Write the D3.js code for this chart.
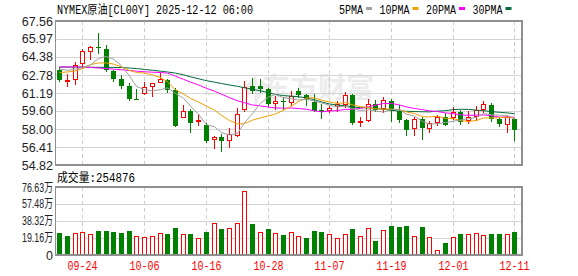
<!DOCTYPE html>
<html>
<head>
<meta charset="utf-8">
<script src="https://cdn.jsdelivr.net/npm/d3@7"></script>
<style>
  body { margin: 0; background: #fff; }
  svg { display: block; }
</style>
</head>
<body>
<div id="kline"></div>
<script>
// data
const dates = ["09-19","09-22","09-23","09-24","09-25","09-26","09-29","09-30","10-01","10-02",
  "10-03","10-06","10-07","10-08","10-09","10-10","10-13","10-14","10-15","10-16",
  "10-17","10-20","10-21","10-22","10-23","10-24","10-27","10-28","10-29","10-30",
  "10-31","11-03","11-04","11-05","11-06","11-07","11-10","11-11","11-12","11-13",
  "11-14","11-17","11-18","11-19","11-20","11-21","11-24","11-25","11-26","11-27",
  "11-28","12-01","12-02","12-03","12-04","12-05","12-08","12-09","12-10","12-11"];
const dateLabels = ["09-24","10-06","10-16","10-28","11-07","11-19","12-01","12-11"];

const open  = [63.25,62.30,62.38,63.76,64.88,65.25,65.08,63.16,62.43,61.78,
  60.66,61.15,61.75,62.16,62.34,61.46,59.04,59.62,58.67,58.33,
  57.12,57.32,56.99,57.47,59.77,61.78,61.78,61.54,60.22,60.44,
  60.35,61.39,61.01,60.42,59.69,59.60,59.98,60.15,61.01,58.54,
  58.80,60.22,59.82,60.48,59.60,58.80,58.07,58.89,58.05,58.58,
  59.04,59.03,59.54,58.74,59.13,59.75,60.13,58.89,58.42,58.85];
const high  = [63.45,62.87,63.89,65.08,65.37,66.52,65.48,63.22,62.78,62.07,
  61.54,62.12,62.10,62.92,62.46,61.63,60.11,59.76,59.29,58.54,
  57.36,57.52,58.08,59.86,62.21,62.56,62.43,61.63,60.90,60.84,
  61.37,61.61,61.10,61.10,60.22,60.08,60.48,61.31,61.10,59.09,
  60.66,60.57,60.84,60.63,60.13,58.85,59.07,59.07,58.74,59.24,
  59.42,59.98,59.69,59.60,60.04,60.46,60.31,59.00,59.15,59.02];
const low   = [62.20,61.69,61.94,63.34,64.14,64.68,63.02,62.12,61.54,60.44,
  60.58,60.97,60.81,62.10,61.18,58.18,58.96,57.69,58.23,56.77,
  56.26,55.97,56.34,57.30,59.51,61.12,61.15,59.95,59.71,59.73,
  60.04,60.75,60.04,59.51,58.86,59.42,59.55,59.86,58.32,58.14,
  58.65,59.47,59.42,58.65,58.54,57.41,57.41,57.03,57.68,58.31,
  58.27,58.76,58.36,58.45,58.71,59.42,58.65,58.14,57.68,56.97];
const close = [62.35,62.34,63.62,64.82,65.23,65.20,63.25,62.47,61.85,60.70,
  60.64,61.68,62.05,62.38,61.46,58.23,59.51,58.55,58.73,56.92,
  57.27,56.97,57.52,59.33,61.72,61.33,61.54,60.22,60.44,60.35,
  60.84,61.01,60.57,59.64,59.47,59.86,60.19,61.01,58.50,58.67,
  60.13,59.69,60.53,59.62,58.80,57.92,58.87,58.12,58.45,59.04,
  58.40,59.48,58.62,59.02,59.66,60.13,58.87,58.42,59.00,57.92];

const volume = [244000,210000,240000,252000,229000,267000,267000,255000,244000,267000,
  207000,195000,207000,240000,233000,301000,229000,233000,184000,255000,
  353000,289000,297000,353000,714000,346000,252000,289000,240000,222000,
  252000,207000,188000,267000,255000,229000,188000,229000,289000,207000,
  301000,154000,274000,323000,312000,323000,207000,312000,195000,49000,
  131000,195000,233000,229000,240000,218000,233000,233000,229000,254876];
// 1 = red (hollow) volume bar, 0 = green
const volUp = [0,0,1,1,1,0,0,0,0,0, 1,1,1,1,0,0,1,0,1,0,
  1,0,1,1,1,0,1,0,1,0, 1,1,0,0,0,1,1,1,0,1,
  1,0,1,0,0,0,1,0,1,1, 0,1,0,1,1,1,0,0,1,0];

const ma5  = [63.30,63.20,63.30,63.45,63.67,64.24,64.42,64.19,63.60,62.69,
  61.78,61.47,61.38,61.49,61.64,61.16,60.73,60.03,59.30,58.39,
  58.20,57.69,57.48,57.60,58.56,59.37,60.29,60.83,61.05,60.78,
  60.68,60.57,60.64,60.48,60.31,60.11,59.95,60.03,59.80,59.64,
  59.70,59.60,59.50,59.73,59.75,59.31,59.15,58.67,58.43,58.48,
  58.58,58.70,58.80,58.91,59.04,59.38,59.26,59.22,59.22,58.87];
const ma10 = [63.00,63.05,63.15,63.35,63.70,63.85,63.85,63.75,63.50,63.18,
  63.01,62.95,62.79,62.55,62.17,61.47,61.10,60.71,60.40,60.02,
  59.68,59.21,58.76,58.45,58.48,58.79,58.99,59.16,59.33,59.67,
  60.03,60.43,60.74,60.77,60.55,60.40,60.26,60.34,60.14,59.98,
  59.91,59.78,59.77,59.77,59.70,59.51,59.38,59.09,59.08,59.12,
  58.95,58.93,58.74,58.67,58.76,58.98,58.98,59.01,59.07,58.96];
const ma20 = [63.50,63.50,63.50,63.48,63.45,63.40,63.35,63.30,63.24,63.18,
  63.12,63.07,63.03,63.00,62.95,62.68,62.40,62.15,61.90,61.60,
  61.35,61.08,60.78,60.50,60.33,60.13,60.05,59.94,59.87,59.85,
  59.86,59.82,59.75,59.61,59.52,59.60,59.63,59.75,59.74,59.83,
  59.97,60.11,60.26,60.27,60.13,59.96,59.82,59.72,59.61,59.55,
  59.43,59.36,59.26,59.22,59.23,59.25,59.18,59.05,59.08,59.04];
const ma30 = [63.48,63.48,63.48,63.47,63.47,63.46,63.46,63.45,63.44,63.40,
  63.35,63.28,63.20,63.12,63.05,62.95,62.80,62.62,62.45,62.28,
  62.15,62.03,61.90,61.78,61.65,61.52,61.38,61.22,61.06,60.96,
  60.91,60.86,60.76,60.59,60.40,60.22,60.12,60.07,59.96,59.89,
  59.88,59.81,59.76,59.67,59.58,59.57,59.55,59.53,59.52,59.59,
  59.63,59.72,59.75,59.74,59.67,59.63,59.54,59.48,59.43,59.36];

const priceTicks = [54.82,56.41,58.00,59.60,61.19,62.78,64.38,65.97,67.56];
const volTicks = [0,191600,383200,574800,766300];
const volTickLabels = ["0","19.16万","38.32万","57.48万","76.63万"];
const maNames = ["5PMA","10PMA","20PMA","30PMA"];

const RED = "#ff0000", GREEN = "#008000";
const maColors = ["#a0a0a0","#f0a000","#ff00ff","#006b3c"];
const mono = "'Liberation Mono','Noto Sans CJK SC',monospace";

const W = 578, H = 276;
const left = 56, right = 522;

const svg = d3.select('#kline').append('svg')
  .attr('width', W).attr('height', H)
  .style('background', '#fff');

const x = d3.scaleBand().domain(d3.range(dates.length)).range([56, 518.6]);
const cx = i => Math.floor(x(i) + x.bandwidth() / 2) + 0.5;
const y = d3.scaleLinear().domain([54.82, 67.56]).range([165, 21]);
const yv = d3.scaleLinear().domain([0, 766300]).range([255, 187]);

// watermark
const wm = svg.append('g').attr('fill', '#ececec');
wm.append('path').attr('d', 'M256,76 C244,84 238,96 244,107 C246,97 250,90 258,84 Z M262,80 C254,90 252,100 256,108 C259,99 262,92 268,86 Z');
wm.append('text').attr('x', 262).attr('y', 98).text('东方财富')
  .style('font-family', "'Noto Sans CJK SC'").style('font-size', '28px').style('font-weight', 'bold');

// grid
const grid = svg.append('g').attr('shape-rendering', 'crispEdges');
grid.selectAll('.hp').data(priceTicks.slice(1, -1)).enter().append('line')
  .attr('x1', left).attr('x2', right)
  .attr('y1', d => Math.round(y(d)) + 0.5).attr('y2', d => Math.round(y(d)) + 0.5)
  .attr('stroke', '#d4d4d4');
grid.selectAll('.hv').data(volTicks.slice(1, -1)).enter().append('line')
  .attr('x1', left).attr('x2', right)
  .attr('y1', d => Math.round(yv(d)) + 0.5).attr('y2', d => Math.round(yv(d)) + 0.5)
  .attr('stroke', '#d4d4d4');
const labIdx = dateLabels.map(d => dates.indexOf(d));
[[21, 165], [187, 255]].forEach(r => {
  grid.selectAll(null).data(labIdx).enter().append('line')
    .attr('x1', d => cx(d)).attr('x2', d => cx(d))
    .attr('y1', r[0]).attr('y2', r[1])
    .attr('stroke', '#cfcfcf').attr('stroke-dasharray', '4,3');
});

// candles
const cg = svg.append('g').attr('shape-rendering', 'crispEdges');
const candles = cg.selectAll('g').data(d3.range(dates.length)).enter().append('g');
candles.append('line')
  .attr('x1', cx).attr('x2', cx)
  .attr('y1', i => y(high[i])).attr('y2', i => y(low[i]))
  .attr('stroke', i => close[i] >= open[i] ? RED : GREEN);
candles.append('rect')
  .attr('x', i => close[i] >= open[i] ? cx(i) - 2 : cx(i) - 2.5)
  .attr('width', i => close[i] >= open[i] ? 4 : 5)
  .attr('y', i => y(Math.max(open[i], close[i])))
  .attr('height', i => Math.max(1, Math.abs(y(open[i]) - y(close[i]))))
  .attr('fill', i => close[i] >= open[i] ? '#fff' : GREEN)
  .attr('stroke', i => close[i] >= open[i] ? RED : 'none');

// moving averages
const line = d3.line().x((d, i) => cx(i)).y(d => y(d));
[ma30, ma20, ma10, ma5].forEach((s, k) => {
  svg.append('path').datum(s).attr('d', line)
    .attr('fill', 'none').attr('stroke', maColors[3 - k]).attr('stroke-width', 1);
});

// volume bars
svg.append('g').attr('shape-rendering', 'crispEdges')
  .selectAll('rect').data(d3.range(dates.length)).enter().append('rect')
  .attr('x', i => volUp[i] ? cx(i) - 2 : cx(i) - 2.5)
  .attr('width', i => volUp[i] ? 4 : 5)
  .attr('y', i => yv(volume[i]))
  .attr('height', i => yv(0) - yv(volume[i]) - (volUp[i] ? 0.5 : 0))
  .attr('fill', i => volUp[i] ? '#fff' : GREEN)
  .attr('stroke', i => volUp[i] ? RED : 'none');

// frames
const frame = svg.append('g').attr('fill', 'none').attr('stroke', '#8f8f8f').attr('stroke-width', 1.5)
  .attr('shape-rendering', 'crispEdges');
frame.append('rect').attr('x', 55.5).attr('y', 21).attr('width', right - 55.5).attr('height', 144);
frame.append('rect').attr('x', 55.5).attr('y', 187).attr('width', right - 55.5).attr('height', 68);

// axis labels
svg.append('g').selectAll('text').data(priceTicks).enter().append('text')
  .attr('x', 53).attr('y', d => y(d) + 4.5)
  .attr('text-anchor', 'end')
  .style('font-family', "'Liberation Sans',Arial,sans-serif").style('font-size', '12.5px')
  .attr('fill', '#1e1e28')
  .text(d => d.toFixed(2));
svg.append('g').selectAll('text').data(volTicks).enter().append('text')
  .attr('x', 53).attr('y', d => yv(d) + 4.5)
  .attr('text-anchor', 'end')
  .attr('textLength', (d, i) => i ? 31 : null).attr('lengthAdjust', 'spacingAndGlyphs')
  .style('font-family', "'Liberation Sans','Noto Sans CJK SC',sans-serif").style('font-size', '12.5px')
  .attr('fill', '#1e1e28')
  .text((d, i) => volTickLabels[i]);
svg.append('g').selectAll('text').data(dateLabels).enter().append('text')
  .attr('x', d => cx(dates.indexOf(d))).attr('y', 270)
  .attr('text-anchor', 'middle')
  .attr('textLength', 30).attr('lengthAdjust', 'spacingAndGlyphs')
  .style('font-family', mono).style('font-size', '12px')
  .attr('fill', RED)
  .text(d => d);

// title, legend, volume caption
svg.append('text').attr('x', 57).attr('y', 13.5)
  .attr('textLength', 196).attr('lengthAdjust', 'spacingAndGlyphs')
  .style('font-family', mono).style('font-size', '12px')
  .text('NYMEX原油[CL00Y] 2025-12-12 06:00');

let lx = 339;
maNames.forEach((n, k) => {
  const w = n.length * 6;
  svg.append('text').attr('x', lx).attr('y', 13.5)
    .attr('textLength', w).attr('lengthAdjust', 'spacingAndGlyphs')
    .style('font-family', mono).style('font-size', '12px').text(n);
  svg.append('rect').attr('x', lx + w + 3).attr('y', 7).attr('width', 6).attr('height', 3)
    .attr('fill', maColors[k]);
  lx += w + 3 + 6 + 7.5;
});

svg.append('text').attr('x', 57).attr('y', 181.5)
  .attr('textLength', 78).attr('lengthAdjust', 'spacingAndGlyphs')
  .style('font-family', mono).style('font-size', '12px')
  .text('成交量:' + volume[volume.length - 1]);
</script>
</body>
</html>
